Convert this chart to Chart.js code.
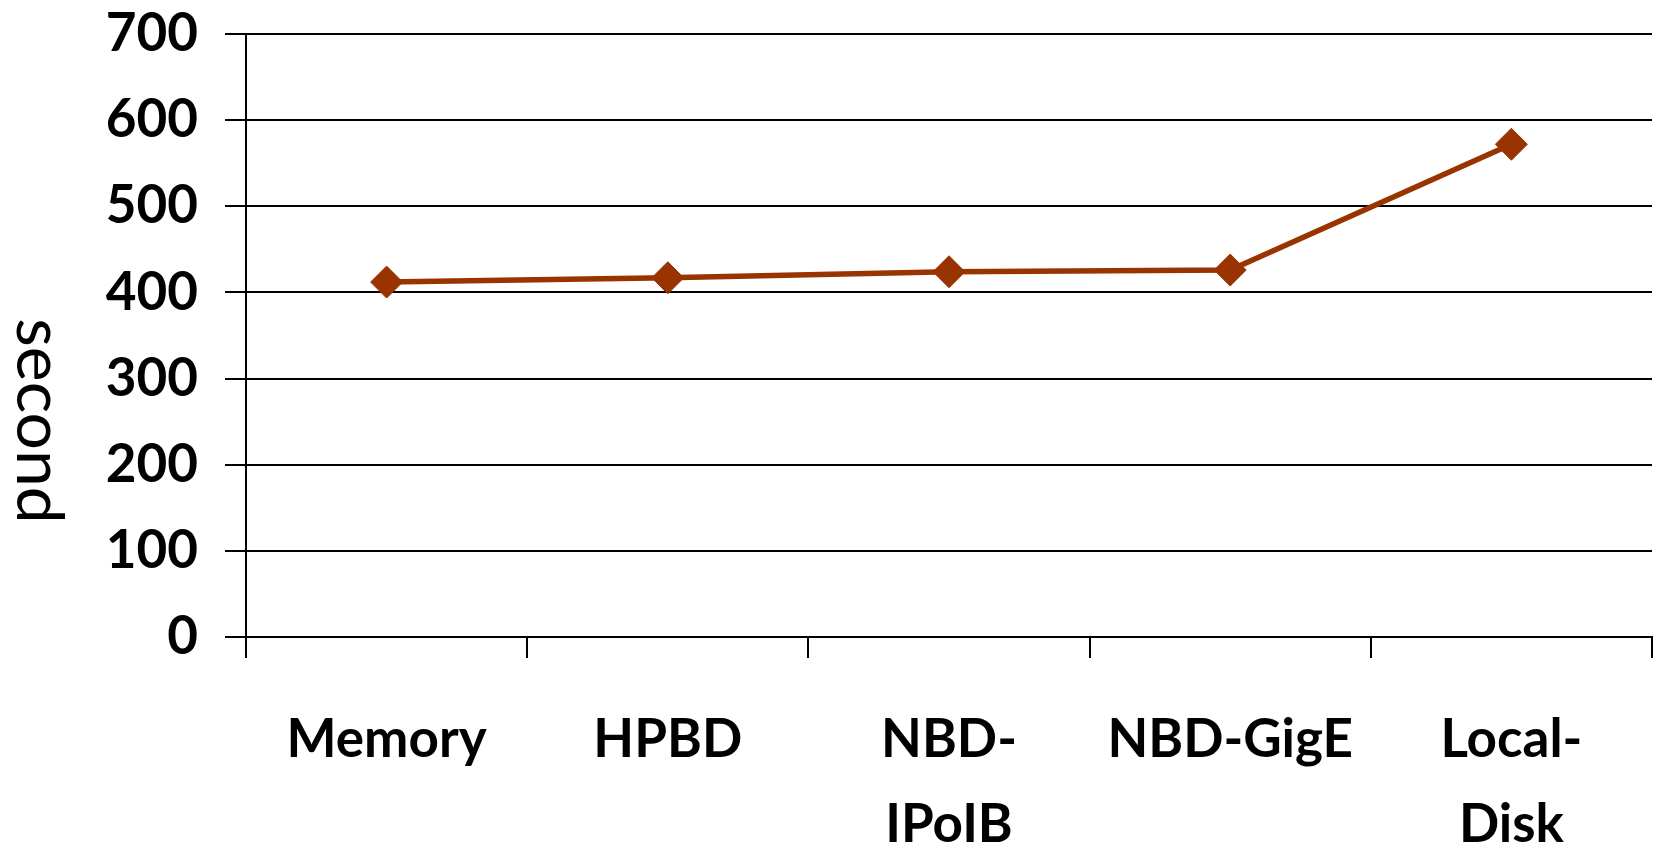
<!DOCTYPE html>
<html>
<head>
<meta charset="utf-8">
<script src="https://cdn.jsdelivr.net/npm/chart.js@4/dist/chart.umd.min.js"></script>
<style>
  html, body { margin: 0; padding: 0; background: #ffffff; }
  #wrap { width: 1656px; height: 848px; position: relative; }
</style>
</head>
<body>
<div id="wrap"><canvas id="chart" width="1656" height="848"></canvas></div>
<script>
// Run time per storage backend, in seconds
const categories = ['Memory', 'HPBD', ['NBD-', 'IPoIB'], 'NBD-GigE', ['Local-', 'Disk']];
const seconds = [412, 417, 424, 426, 572];
const yTicks = [0, 100, 200, 300, 400, 500, 600, 700];
const yAxisTitle = 'second';

const lineColor = '#993300';
const labelFont = { family: 'Lato', size: 53, weight: 'bold', lineHeight: 1.6 };

// Vertical axis title, read top-to-bottom (rotated clockwise)
const sideTitle = {
  id: 'sideTitle',
  afterDraw(chart) {
    const ctx = chart.ctx;
    ctx.save();
    ctx.translate(38, 421);
    ctx.rotate(Math.PI / 2);
    ctx.font = 'normal 66px Lato';
    ctx.fillStyle = '#000000';
    ctx.textAlign = 'center';
    ctx.textBaseline = 'middle';
    ctx.fillText(yAxisTitle, 0, 0);
    ctx.restore();
  }
};

new Chart(document.getElementById('chart'), {
  type: 'line',
  data: {
    labels: categories,
    datasets: [{
      data: seconds,
      borderColor: lineColor,
      backgroundColor: lineColor,
      borderWidth: 5.5,
      pointStyle: 'rectRot',
      pointRadius: 16,
      pointHoverRadius: 16,
      pointBackgroundColor: lineColor,
      pointBorderColor: lineColor,
      pointBorderWidth: 1,
      tension: 0,
      fill: false
    }]
  },
  options: {
    responsive: false,
    animation: false,
    devicePixelRatio: 1,
    layout: { autoPadding: false, padding: { top: 34, right: 4, left: 0, bottom: 0 } },
    plugins: {
      legend: { display: false },
      tooltip: { enabled: false },
      title: { display: false }
    },
    scales: {
      x: {
        type: 'category',
        offset: true,
        grid: {
          offset: true,
          drawOnChartArea: true,
          color: (c) => (c.index === categories.length ? '#000000' : 'rgba(0,0,0,0)'),
          tickColor: '#000000',
          lineWidth: 2,
          tickLength: 21,
          tickWidth: 2
        },
        border: { display: true, color: '#000000', width: 2 },
        ticks: {
          color: '#000000',
          font: labelFont,
          padding: 40,
          maxRotation: 0,
          autoSkip: false
        },
        afterFit(scale) {
          scale.height = 211;
          scale.paddingLeft = 0;
          scale.paddingRight = 0;
        }
      },
      y: {
        min: 0,
        max: 700,
        afterBuildTicks(scale) { scale.ticks = yTicks.map(v => ({ value: v })); },
        grid: {
          color: '#000000',
          lineWidth: 2,
          tickLength: 21,
          drawTicks: true
        },
        border: { display: true, color: '#000000', width: 2 },
        ticks: {
          color: '#000000',
          font: { family: 'Lato', size: 53, weight: 'bold', lineHeight: 0.2 },
          padding: 27
        },
        afterFit(scale) { scale.width = 246; }
      }
    }
  },
  plugins: [sideTitle]
});
</script>
</body>
</html>
